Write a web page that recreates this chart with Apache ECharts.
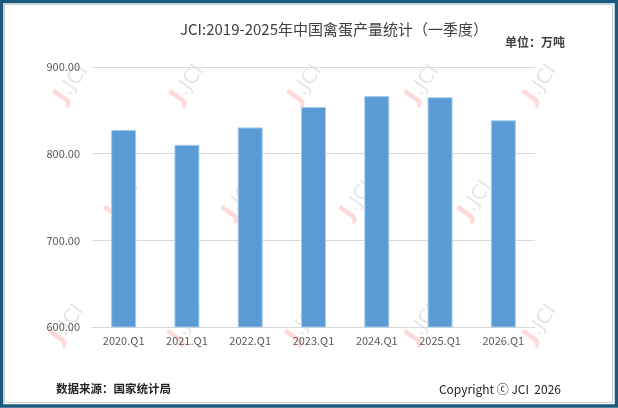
<!DOCTYPE html>
<html>
<head>
<meta charset="utf-8">
<script src="https://cdn.jsdelivr.net/npm/echarts@6/dist/echarts.min.js"></script>
<style>
  html, body { margin: 0; padding: 0; background: #fff; }
  #main { width: 618px; height: 408px; }
</style>
</head>
<body>
<div id="main"></div>
<script>
var categories = ['2020.Q1', '2021.Q1', '2022.Q1', '2023.Q1', '2024.Q1', '2025.Q1', '2026.Q1'];
var output = [827.4, 810.2, 830.3, 853.9, 866.4, 865.1, 838.5];
var yTicks = [600, 700, 800, 900];

var FONT = '"Noto Sans CJK SC", "Noto Sans", sans-serif';

// watermark positions (logo centre)
var marks = [
    [72, 84], [188, 84], [306, 84], [423, 84], [541, 84],
    [123, 200], [240, 200], [358, 200], [476, 200],
    [68, 324], [186, 324], [304, 324], [423, 324], [541, 324]
];
var wm = marks.map(function (p) {
    return {
        type: 'text',
        x: p[0], y: p[1],
        rotation: 55 * Math.PI / 180,
        z: -10,
        style: {
            text: '{a|J}{b|.JCI}',
            align: 'center',
            verticalAlign: 'middle',
            rich: {
                a: { fontSize: 24, fontWeight: 'bold', fill: 'rgba(250,120,120,0.28)', fontFamily: 'DejaVu Sans' },
                b: { fontSize: 20, fill: 'rgba(140,140,140,0.22)', fontFamily: 'DejaVu Sans' }
            }
        }
    };
});

var myChart = echarts.init(document.getElementById('main'));
var option = {
    backgroundColor: '#fff',
    animation: false,
    title: {
        text: 'JCI:2019-2025年中国禽蛋产量统计（一季度）',
        left: 329,
        textAlign: 'center',
        top: 17,
        textStyle: { fontFamily: FONT, fontSize: 15, fontWeight: 'normal', color: '#404040' }
    },
    grid: {
        left: 92,
        right: 83,
        top: 67,
        bottom: 81
    },
    xAxis: {
        type: 'category',
        data: categories,
        axisLine: { lineStyle: { color: '#d9d9d9', width: 1 } },
        axisTick: { show: false },
        axisLabel: { fontFamily: FONT, fontSize: 11, color: '#595959', margin: 8 }
    },
    yAxis: {
        type: 'value',
        min: yTicks[0],
        max: yTicks[yTicks.length - 1],
        interval: 100,
        axisLine: { show: false },
        axisTick: { show: false },
        splitLine: { lineStyle: { color: '#d9d9d9', width: 1 } },
        axisLabel: {
            fontFamily: FONT, fontSize: 11, color: '#595959', margin: 12,
            formatter: function (v) { return v.toFixed(2); }
        }
    },
    series: [{
        type: 'bar',
        data: output,
        barWidth: 25,
        itemStyle: { color: '#5b9bd5', borderColor: '#a9cbeb', borderWidth: 1 }
    }],
    graphic: wm.concat([
        {
            type: 'text', right: 53, top: 36,
            style: { text: '单位：万吨', fontFamily: FONT, fontSize: 12, fontWeight: 'bold', fill: '#404040' }
        },
        {
            type: 'text', left: 56, top: 383,
            style: { text: '数据来源：国家统计局', fontFamily: FONT, fontSize: 11.5, fontWeight: 'bold', fill: '#262626' }
        },
        {
            type: 'text', right: 57, top: 383,
            style: { text: 'Copyright ⓒ JCI  2026', fontFamily: FONT, fontSize: 12, fill: '#262626' }
        },
        {
            type: 'rect', z: 100,
            shape: { x: 4.5, y: 4.5, width: 608, height: 398 },
            style: { fill: 'none', stroke: '#c8d0d8', lineWidth: 1 }
        },
        {
            type: 'rect', z: 100,
            shape: { x: 1.5, y: 1.5, width: 615, height: 404.5 },
            style: { fill: 'none', stroke: '#1b5a7c', lineWidth: 3.5 }
        }
    ])
};
myChart.setOption(option);
</script>
</body>
</html>
